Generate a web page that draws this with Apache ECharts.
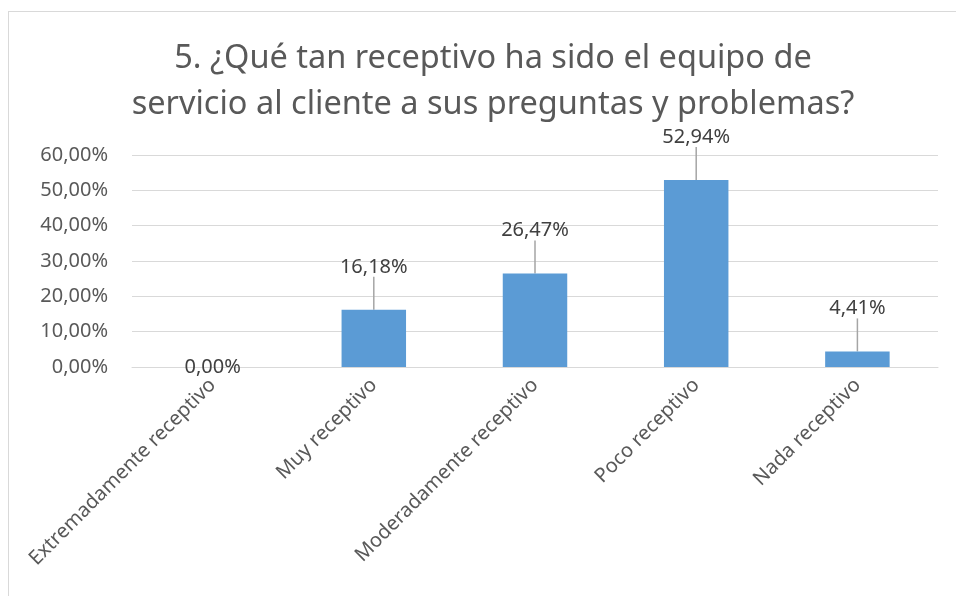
<!DOCTYPE html>
<html>
<head>
<meta charset="utf-8">
<script src="https://cdn.jsdelivr.net/npm/echarts@6/dist/echarts.min.js"></script>
<style>
  html, body { margin: 0; padding: 0; background: #fff; }
  #main { position: absolute; left: 0; top: 0; width: 956px; height: 596px; }
  #frame { position: absolute; left: 8px; top: 11px; width: 1000px; height: 700px;
    border: 1px solid #d9d9d9; pointer-events: none; }
</style>
</head>
<body>
<div id="main"></div>
<div id="frame"></div>
<script>
var titleText = '5. ¿Qué tan receptivo ha sido el equipo de\nservicio al cliente a sus preguntas y problemas?'
var categories = ['Extremadamente receptivo', 'Muy receptivo', 'Moderadamente receptivo', 'Poco receptivo', 'Nada receptivo']
var values = [0, 16.18, 26.47, 52.94, 4.41]
var yTicks = [0, 10, 20, 30, 40, 50, 60]

var fontName = 'Noto Sans'

function pct (v) {
  return v.toFixed(2).replace('.', ',') + '%'
}

var chart = echarts.init(document.getElementById('main'))

var barData = values.map(function (v) {
  if (v === 0) {
    return { value: v, label: { position: 'inside' } }
  }
  return v
})

var option = {
  backgroundColor: '#fff',
  title: {
    text: titleText,
    left: 488,
    top: 31,
    textAlign: 'center',
    textStyle: {
      fontFamily: fontName,
      fontSize: 32.5,
      fontWeight: 'normal',
      color: '#595959',
      lineHeight: 46
    }
  },
  grid: {
    left: 132,
    right: 18,
    top: 155,
    bottom: 229
  },
  xAxis: {
    type: 'category',
    data: categories,
    axisLine: { lineStyle: { color: '#d9d9d9', width: 1 } },
    axisTick: { show: false },
    axisLabel: {
      rotate: 45,
      margin: 15,
      interval: 0,
      fontFamily: fontName,
      fontSize: 20,
      color: '#595959'
    }
  },
  yAxis: {
    type: 'value',
    min: yTicks[0],
    max: yTicks[yTicks.length - 1],
    interval: 10,
    axisLine: { show: false },
    axisTick: { show: false },
    splitLine: { lineStyle: { color: '#d9d9d9', width: 1 } },
    axisLabel: {
      margin: 24,
      fontFamily: fontName,
      fontSize: 20,
      color: '#595959',
      formatter: pct
    }
  },
  series: [
    {
      type: 'bar',
      data: barData,
      barWidth: '40%',
      itemStyle: { color: '#5b9bd5' },
      label: {
        show: true,
        position: 'top',
        distance: 5,
        fontFamily: fontName,
        fontSize: 20,
        color: '#404040',
        formatter: function (p) { return pct(p.value) }
      },
      labelLine: {
        show: true,
        lineStyle: { color: '#a5a5a5', width: 1.5 }
      },
      labelLayout: function (p) {
        return { dy: values[p.dataIndex] === 0 ? 0 : -28 }
      }
    }
  ]
}

chart.setOption(option)
</script>
</body>
</html>
